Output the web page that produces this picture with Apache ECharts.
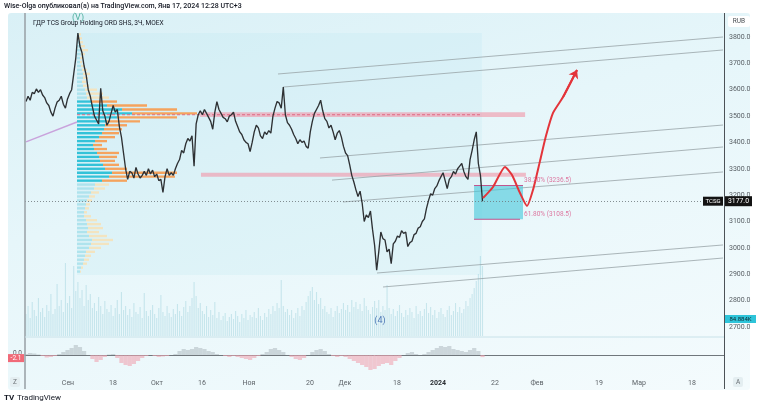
<!DOCTYPE html>
<html><head><meta charset="utf-8">
<script src="https://cdn.jsdelivr.net/npm/echarts@6/dist/echarts.min.js"></script>
<style>
html,body{margin:0;padding:0;background:#fff;}
#wrap{position:relative;width:758px;height:409px;overflow:hidden;}
#bg{position:absolute;left:8px;top:13px;width:742px;height:377px;border-radius:3px;background:linear-gradient(165deg,#d9f0f6 0%,#e6f6fa 40%,#f4fbfd 100%);}
#chart{position:absolute;left:0;top:0;width:758px;height:409px;}
</style></head><body>
<div id="wrap"><div id="bg"></div><div id="chart"></div></div>
<script>
// ---- time axis (trading-day index) ----
const tickDays = [10.36, 21.2, 31.8, 42.65, 53.98, 68.67, 77.1, 89.64, 99.5, 113.25, 123.37, 138.3, 147.95, 160.7];
const tickLabels = ['Сен', '18', 'Окт', '16', 'Ноя', '20', 'Дек', '18', '2024', '22', 'Фев', '19', 'Мар', '18'];
const priceTicks = [2700, 2800, 2900, 3000, 3100, 3200, 3300, 3400, 3500, 3600, 3700, 3800];

// ---- price (3h bars, sampled every half trading day) ----
const priceStart = 0.24, priceStep = 0.5;
const prices = [
 3555,3575,3560,3590,3585,3603,3590,3600,3580,3570,
 3550,3540,3515,3500,3530,3553,3560,3575,3545,3530,
 3565,3585,3600,3660,3720,3815,3765,3740,3690,3655,
 3600,3575,3535,3500,3485,3470,3605,3520,3500,3465,
 3480,3510,3540,3515,3525,3460,3420,3360,3300,3260,
 3290,3285,3265,3305,3280,3265,3275,3290,3275,3300,
 3280,3295,3270,3280,3255,3260,3210,3270,3300,3275,
 3285,3275,3300,3320,3335,3370,3360,3395,3415,3405,
 3425,3310,3470,3505,3520,3505,3525,3510,3495,3480,
 3450,3515,3555,3525,3510,3495,3490,3478,3500,3505,
 3515,3480,3460,3440,3430,3410,3400,3395,3365,3400,
 3440,3465,3455,3425,3415,3440,3430,3445,3435,3500,
 3530,3555,3550,3530,3610,3505,3475,3465,3450,3430,
 3415,3395,3410,3400,3405,3385,3378,3440,3480,3510,
 3525,3540,3560,3520,3490,3480,3455,3465,3440,3410,
 3435,3445,3420,3385,3360,3350,3315,3275,3250,3220,
 3195,3215,3170,3100,3125,3115,3140,3070,3010,2915,
 2985,3060,3035,3030,2985,2995,2940,3015,3025,3045,
 3040,3065,3055,3060,3005,3020,3025,3050,3055,3075,
 3080,3100,3110,3150,3180,3205,3200,3225,3235,3255,
 3270,3285,3255,3225,3260,3270,3290,3280,3300,3310,
 3320,3290,3270,3260,3335,3370,3410,3440,3320,3275,
 3177
];
const volumes = [
 22,30,18,34,26,20,38,24,28,19,
 31,25,42,22,27,52,30,36,24,73,
 33,40,28,70,45,54,38,46,30,51,
 36,42,28,33,25,39,30,22,35,27,
 24,31,20,28,36,22,44,26,30,21,
 27,19,33,24,22,29,18,43,25,20,
 26,31,22,18,28,41,24,20,30,23,
 19,27,22,32,25,20,29,35,24,30,
 38,54,40,28,33,25,22,30,19,26,
 21,34,18,24,16,20,23,15,19,22,
 17,25,20,14,22,18,26,16,21,19,
 24,18,28,20,16,23,19,27,22,30,
 25,33,28,56,30,24,27,21,26,18,
 23,28,20,30,26,34,40,45,49,36,
 44,32,38,27,30,24,22,28,19,25,
 30,23,27,33,26,31,24,36,29,34,
 27,32,25,38,30,26,22,29,35,28,
 36,24,30,26,51,28,22,27,20,25,
 31,23,19,26,21,28,24,18,30,22,
 25,20,27,33,23,29,21,26,18,24,
 28,22,19,26,30,21,25,33,24,29,
 23,27,35,30,38,42,48,55,62,80,70
];
const lastPrice = 3177.0;
const lastVolumeText = '84.884K';

// ---- oscillator (one value per trading day) ----
const oscStart = 0.24, oscStep = 1;
const osc = [
 1,2,1.5,0.5,-1,-2.5,-2,-1,1,3,
 5,7,10,8,4,0,-4,-7,-5,-2,
 0.5,1,-3,-8,-10,-11,-9,-6,-3,-1,
 0,-1,-2,-1.5,-1,0,1,4,6,5,
 6,8,7,6,4,3,1,0,-1,-2,
 -1,-2,-3,-4,-5,-3,-1,1,3,6,
 7,5,3,0,-2,-4,-5,-3,0,3,
 5,6,4,1,-1,-2,-1,-2,-4,-6,
 -8,-10,-12,-15,-14,-11,-9,-8,-10,-6,
 -3,0,2,3,1,0,1,3,5,7,
 9,8,9,6,5,4,3,5,7,4,
 -2.1
];

// ---- fixed range volume profile ----
const profileStartDay = 12.53, profileEndDay = 110.1;
const profilePrice = [3810,3795,3780,3765,3750,3735,3720,3705,3690,3675,3660,3645,3630,3615,3600,3585,3570,
 3555,3540,3525,3510,3495,3480,3465,3450,3435,3420,3405,3390,3375,3360,3345,3330,3315,3300,3285,3270,3255,
 3240,3225,3210,3195,3180,3165,3150,3135,3120,3105,3090,3075,3060,3045,3030,3015,3000,2985,2970,2955,2940,2925,2910];
const profileUp = [2,2,3,4,5,4,3,3,4,5,6,6,5,6,8,9,10,
 14,30,45,55,40,30,28,27,25,22,18,16,17,20,22,23,26,28,35,32,25,
 18,17,14,12,10,9,8,7,7,9,10,11,10,12,15,14,12,9,8,7,6,4,3];
const profileDown = [2,3,3,4,6,4,3,2,3,5,7,5,4,6,12,17,22,
 26,40,55,65,60,33,22,18,17,16,12,9,13,22,18,15,16,22,65,66,25,
 14,11,8,6,5,4,4,3,7,11,14,15,12,18,21,18,12,9,6,5,4,2,1];
const pocPrice = 3505;
const valueAreaLow = 3250, valueAreaHigh = 3560;
const rangeTop = 3815, rangeBottom = 2897;

// ---- drawings ----
const zones = [[42.2, 120.5, 3496, 3514], [42.4, 120.7, 3270, 3285]];
const channels = [
 [[60.96, 3659.6], [168.2, 3800]],
 [[62.17, 3610], [168.2, 3750.7]],
 [[71.08, 3341], [168.2, 3466]],
 [[73.98, 3257], [168.2, 3382.7]],
 [[76.63, 3174], [168.2, 3288]],
 [[84.82, 2904.6], [168.2, 3011]],
 [[86.27, 2851.5], [168.2, 2961.5]]
];
const lilacLine = [[0.24, 3402], [12.53, 3477.5]];
const forecast = [[110.36,3189],[112.77,3231],[115.66,3307],[117.35,3276],[119.28,3208],[120.96,3159],
 [122.41,3220],[124.1,3330],[125.54,3425],[127.23,3512],[129.64,3572],[133.01,3675]];
const fib = {start: 108.2, end: 120.0, high: 3236.5, low: 3108.5};
const fibLabels = ['38.20% (3236.5)', '61.80% (3108.5)'];
const waveLabels = [{name: '(V)', value: [12.77, 3872], color: '#2a9d86'}, {name: '(4)', value: [85.54, 2722], color: '#2b5aa6'}];

// ---- build ----
const FONT = 'Roboto, "Noto Sans", sans-serif';
const priceData = prices.map((p, i) => [priceStart + i * priceStep, p]);
const volData = volumes.map((v, i) => [priceStart + i * priceStep, v]);
const oscData = osc.map((v, i) => [oscStart + i * oscStep, v]);
const profileData = profilePrice.map((p, i) => [p, profileUp[i], profileDown[i]]);
const profileDayPerUnit = 1 / 4.15;
const profileRowStep = 15;

function rectRender(fill) {
  return function (params, api) {
    const a = api.coord([api.value(0), api.value(3)]);
    const b = api.coord([api.value(1), api.value(2)]);
    return {type: 'rect', shape: {x: a[0], y: a[1], width: b[0] - a[0], height: b[1] - a[1]}, style: {fill: fill}};
  };
}

const chart = echarts.init(document.getElementById('chart'), null, {renderer: 'canvas'});
const option = {
  animation: false,
  textStyle: {fontFamily: FONT},
  grid: [{left: 25, top: 13, width: 699, height: 323}, {left: 25, top: 338, width: 699, height: 34}],
  xAxis: [
    {type: 'value', gridIndex: 0, min: 0, max: 168.43, show: false},
    {type: 'value', gridIndex: 1, min: 0, max: 168.43,
     axisLine: {show: true, lineStyle: {color: '#70777c', width: 1}}, axisTick: {show: false}, splitLine: {show: false},
     axisLabel: {customValues: tickDays, fontSize: 7, color: '#5d6368', margin: 8, fontFamily: FONT,
       formatter: function (v) {
         let best = 0; for (let i = 0; i < tickDays.length; i++) if (Math.abs(tickDays[i] - v) < Math.abs(tickDays[best] - v)) best = i;
         const t = tickLabels[best]; return t === '2024' ? '{b|' + t + '}' : t;
       },
       rich: {b: {fontWeight: 'bold', color: '#2a2e33', fontSize: 7, fontFamily: FONT}}}}
  ],
  yAxis: [
    {type: 'value', gridIndex: 0, position: 'right', min: 2665.6, max: 3891,
     axisLine: {show: false}, axisTick: {show: false}, splitLine: {show: false},
     axisLabel: {customValues: priceTicks, formatter: v => v.toFixed(1), fontSize: 7, color: '#5a6166', margin: 5, fontFamily: FONT}},
    {type: 'value', gridIndex: 0, min: 0, max: 323, show: false},
    {type: 'value', gridIndex: 1, min: -17, max: 17, show: false}
  ],
  series: [
    {type: 'custom', name: 'range', xAxisIndex: 0, yAxisIndex: 0, silent: true, z: 1,
     data: [[profileStartDay, profileEndDay, rangeBottom, rangeTop]], encode: {x: [0, 1], y: [2, 3]},
     renderItem: rectRender('rgba(170,222,236,0.16)')},
    {type: 'custom', name: 'zones', xAxisIndex: 0, yAxisIndex: 0, silent: true, z: 2,
     data: zones, encode: {x: [0, 1], y: [2, 3]}, renderItem: rectRender('rgba(240,150,168,0.62)')},
    {type: 'bar', name: 'volume', xAxisIndex: 0, yAxisIndex: 1, data: volData, barWidth: 1.1,
     itemStyle: {color: 'rgba(140,200,212,0.38)'}, silent: true, z: 2},
    {type: 'custom', name: 'profile', xAxisIndex: 0, yAxisIndex: 0, silent: true, z: 3,
     data: profileData, encode: {y: 0},
     renderItem: function (params, api) {
       const p = api.value(0), up = api.value(1), dn = api.value(2);
       const a = api.coord([profileStartDay, p]);
       const b = api.coord([profileStartDay + up * profileDayPerUnit, p]);
       const c = api.coord([profileStartDay + (up + dn) * profileDayPerUnit, p]);
       const h = Math.abs(api.size([0, profileRowStep])[1]) * 0.6;
       const va = p >= valueAreaLow && p <= valueAreaHigh;
       return {type: 'group', children: [
         {type: 'rect', shape: {x: a[0], y: a[1] - h / 2, width: b[0] - a[0], height: h}, style: {fill: va ? '#33c2d8' : 'rgba(160,222,234,0.75)'}},
         {type: 'rect', shape: {x: b[0], y: a[1] - h / 2, width: c[0] - b[0], height: h}, style: {fill: va ? '#f5a35e' : 'rgba(246,226,186,0.9)'}}
       ]};
     }},
    {type: 'line', name: 'poc', xAxisIndex: 0, yAxisIndex: 0, data: [[profileStartDay, pocPrice], [profileEndDay, pocPrice]],
     showSymbol: false, silent: true, z: 4, lineStyle: {color: '#e0607a', width: 0.9, type: [3, 2]}},
    {type: 'lines', name: 'channels', coordinateSystem: 'cartesian2d', xAxisIndex: 0, yAxisIndex: 0, silent: true, z: 4,
     data: channels.map(c => ({coords: c})), lineStyle: {color: '#98a3a7', width: 0.8, opacity: 1}},
    {type: 'line', name: 'lilac', xAxisIndex: 0, yAxisIndex: 0, data: lilacLine, showSymbol: false, silent: true, z: 4,
     lineStyle: {color: '#c9a3dc', width: 1.5}},
    {type: 'custom', name: 'fib', xAxisIndex: 0, yAxisIndex: 0, silent: true, z: 4,
     data: [[fib.start, fib.end, fib.low, fib.high]], encode: {x: [0, 1], y: [2, 3]},
     renderItem: function (params, api) {
       const a = api.coord([api.value(0), api.value(3)]);
       const b = api.coord([api.value(1), api.value(2)]);
       return {type: 'group', children: [
         {type: 'rect', shape: {x: a[0], y: a[1], width: b[0] - a[0], height: b[1] - a[1]}, style: {fill: 'rgba(72,200,218,0.62)'}},
         {type: 'line', shape: {x1: a[0], y1: a[1], x2: b[0], y2: a[1]}, style: {stroke: '#c0548f', lineWidth: 1}},
         {type: 'line', shape: {x1: a[0], y1: b[1], x2: b[0] - 3, y2: b[1]}, style: {stroke: '#c0548f', lineWidth: 1}}
       ]};
     }},
    {type: 'line', name: 'price', xAxisIndex: 0, yAxisIndex: 0, data: priceData, showSymbol: false, z: 5,
     lineStyle: {color: '#2e3134', width: 1.35},
     markLine: {silent: true, symbol: 'none', label: {show: false},
       lineStyle: {color: '#6b7378', width: 0.8, type: [1, 2]}, data: [{yAxis: lastPrice}]}},
    {type: 'line', name: 'forecast', xAxisIndex: 0, yAxisIndex: 0, data: forecast, smooth: 0.2, showSymbol: false, z: 6,
     lineStyle: {color: '#e3343a', width: 2}},
    {type: 'lines', name: 'arrow', coordinateSystem: 'cartesian2d', xAxisIndex: 0, yAxisIndex: 0, z: 6, silent: true,
     symbol: ['none', 'arrow'], symbolSize: [0, 8],
     data: [{coords: [forecast[forecast.length - 2], forecast[forecast.length - 1]]}],
     lineStyle: {color: '#e3343a', width: 2, opacity: 1}},
    {type: 'scatter', name: 'labels', xAxisIndex: 0, yAxisIndex: 0, symbolSize: 0, z: 7, silent: true,
     data: waveLabels.map(w => ({name: w.name, value: w.value, label: {color: w.color}})),
     label: {show: true, position: 'inside', formatter: '{b}', fontSize: 9, fontFamily: FONT}},
    {type: 'scatter', name: 'fibLabels', xAxisIndex: 0, yAxisIndex: 0, symbolSize: 0, z: 7, silent: true,
     data: [{name: fibLabels[0], value: [fib.end, fib.high]}, {name: fibLabels[1], value: [fib.end, fib.low]}],
     label: {show: true, position: 'right', distance: 1, offset: [0, -5], formatter: '{b}', fontSize: 6.5, color: '#d9588a', fontFamily: FONT}},
    {type: 'bar', name: 'osc', xAxisIndex: 1, yAxisIndex: 2, data: oscData, barWidth: 4.2, silent: true,
     itemStyle: {color: function (p) { return p.value[1] >= 0 ? 'rgba(175,185,192,0.55)' : 'rgba(240,165,178,0.6)'; }}}
  ]
};
chart.setOption(option);

// ---- chrome, labels derived from scales ----
const yLast = chart.convertToPixel({yAxisIndex: 0}, lastPrice);
const yZero = chart.convertToPixel({yAxisIndex: 2}, 0);
const yOscLast = chart.convertToPixel({yAxisIndex: 2}, osc[osc.length - 1]);
const g = [];
g.push({type: 'text', left: 4, top: 3, style: {text: 'Wise-Olga опубликовал(а) на TradingView.com, Янв 17, 2024 12:28 UTC+3', fontSize: 7, fontWeight: 500, fill: '#131722', fontFamily: FONT}});
g.push({type: 'text', left: 33, top: 20, style: {text: 'ГДР TCS Group Holding ORD SHS, 3Ч, MOEX', fontSize: 6.6, fill: '#131722', fontFamily: FONT}, z: 10});
g.push({type: 'line', shape: {x1: 25, y1: 13, x2: 25, y2: 389}, style: {stroke: '#979fa4', lineWidth: 1.5}, z: 10});
g.push({type: 'line', shape: {x1: 724.5, y1: 13, x2: 724.5, y2: 389}, style: {stroke: '#4c5257', lineWidth: 1}, z: 10});
g.push({type: 'line', shape: {x1: 25, y1: 337, x2: 724, y2: 337}, style: {stroke: '#c8e2e9', lineWidth: 1}, z: 10});
g.push({type: 'rect', shape: {x: 728, y: 16, width: 22, height: 11, r: 2}, style: {fill: '#ffffff'}, z: 10});
g.push({type: 'text', x: 739, y: 21.5, style: {text: 'RUB', fontSize: 6.5, fill: '#4a4f54', align: 'center', verticalAlign: 'middle', fontFamily: FONT}, z: 11});
// last price
g.push({type: 'rect', shape: {x: 703, y: yLast - 4.5, width: 20, height: 9}, style: {fill: '#131313'}, z: 12});
g.push({type: 'text', x: 713, y: yLast, style: {text: 'TCSG', fontSize: 6, fill: '#fff', align: 'center', verticalAlign: 'middle', fontFamily: FONT}, z: 13});
g.push({type: 'rect', shape: {x: 725, y: yLast - 5, width: 27, height: 10}, style: {fill: '#131313'}, z: 12});
g.push({type: 'text', x: 738.5, y: yLast, style: {text: lastPrice.toFixed(1), fontSize: 6.8, fill: '#fff', align: 'center', verticalAlign: 'middle', fontFamily: FONT}, z: 13});
// volume label
g.push({type: 'rect', shape: {x: 725, y: 315, width: 31, height: 8}, style: {fill: '#2ec4d9'}, z: 12});
g.push({type: 'text', x: 740.5, y: 319, style: {text: lastVolumeText, fontSize: 6, fill: '#0d2a33', align: 'center', verticalAlign: 'middle', fontFamily: FONT}, z: 13});
// osc labels
g.push({type: 'text', x: 22, y: yZero - 2, style: {text: '0.0', fontSize: 6.5, fill: '#555b60', align: 'right', verticalAlign: 'middle', fontFamily: FONT}, z: 12});
g.push({type: 'rect', shape: {x: 8, y: yOscLast - 3, width: 16, height: 8}, style: {fill: '#f06a78'}, z: 12});
g.push({type: 'text', x: 16, y: yOscLast + 1, style: {text: osc[osc.length - 1].toFixed(1), fontSize: 6.5, fill: '#fff', align: 'center', verticalAlign: 'middle', fontFamily: FONT}, z: 13});
// corner buttons
g.push({type: 'rect', shape: {x: 10, y: 377, width: 10, height: 10, r: 2}, style: {fill: '#e4eef1'}, z: 10});
g.push({type: 'text', x: 15, y: 382, style: {text: 'Z', fontSize: 6.5, fill: '#6a7075', align: 'center', verticalAlign: 'middle', fontFamily: FONT}, z: 11});
g.push({type: 'rect', shape: {x: 733, y: 377, width: 10, height: 10, r: 2}, style: {fill: '#e4eef1'}, z: 10});
g.push({type: 'text', x: 738, y: 382, style: {text: 'A', fontSize: 6.5, fill: '#6a7075', align: 'center', verticalAlign: 'middle', fontFamily: FONT}, z: 11});
// logo
g.push({type: 'text', left: 4, top: 394, style: {text: 'TV', fontSize: 8, fontWeight: 'bold', fill: '#131722', fontFamily: FONT}, z: 10});
g.push({type: 'text', left: 17, top: 394, style: {text: 'TradingView', fontSize: 8, fill: '#131722', fontFamily: FONT}, z: 10});
chart.setOption({graphic: g});
</script>
</body></html>
